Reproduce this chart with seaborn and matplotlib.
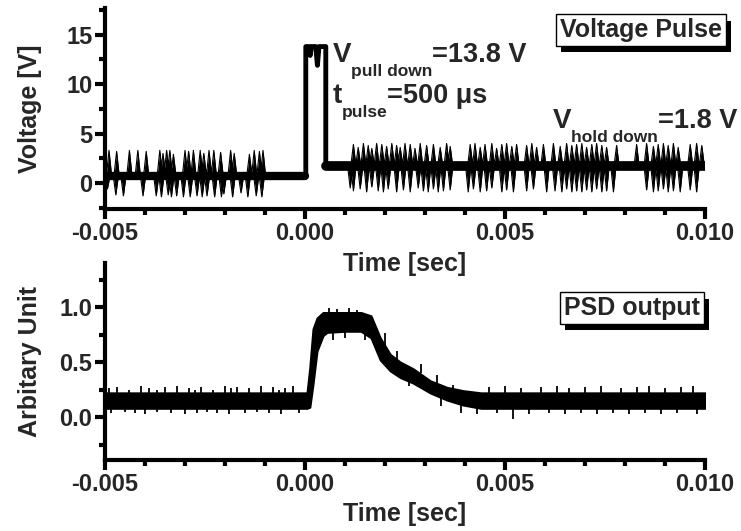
import matplotlib
matplotlib.use("Agg")
import matplotlib.pyplot as plt
import matplotlib.patheffects as pe
from matplotlib.ticker import MultipleLocator, FormatStrFormatter
import pandas as pd
import seaborn as sns

sns.set_theme(style="ticks")
plt.rcParams["font.family"] = ["Liberation Sans", "DejaVu Sans"]
plt.rcParams["font.weight"] = "bold"

# ---- Voltage pulse (times in ms, volts) ----
pre_base = 0.75
pre_up_t = [-4.90, -4.71, -4.39, -4.18, -3.97, -3.63, -3.55, -3.46, -3.38, -3.29,
            -3.00, -2.91, -2.79, -2.62, -2.53, -2.40, -2.28, -2.11, -1.86, -1.77,
            -1.39, -1.27, -1.14, -1.05]
pre_up_v = [3.3, 3.2, 3.3, 3.3, 3.2, 3.3, 3.0, 3.3, 3.3, 2.9,
            3.3, 3.2, 3.3, 3.3, 3.0, 3.3, 3.3, 3.1, 3.3, 3.0,
            2.9, 3.3, 3.2, 3.3]
pre_dn_t = [-4.94, -4.73, -4.54, -4.05, -3.72, -3.59, -3.42, -3.34, -3.21, -3.04,
            -2.87, -2.70, -2.57, -2.45, -2.26, -2.09, -2.03, -1.81, -1.60, -1.43,
            -1.22, -1.08]
pre_dn_v = [-0.6, -1.2, -1.3, -1.3, -1.3, -1.4, -1.2, -1.4, -1.3, -1.4,
            -1.4, -1.3, -1.4, -1.3, -1.4, -1.4, -1.1, -1.4, -1.0, -1.4,
            -1.3, -1.4]

pulse_t = [0.0, 0.02, 0.02, 0.10, 0.13, 0.16, 0.27, 0.31, 0.35, 0.52, 0.52]
pulse_v = [0.75, 0.75, 13.8, 13.8, 12.9, 13.8, 13.8, 11.9, 13.8, 13.8, 1.7]

post_base = 1.7
post_up_t = [1.21, 1.33, 1.46, 1.58, 1.67, 1.79, 1.92, 2.04, 2.17, 2.29,
             2.38, 2.50, 2.63, 2.75, 2.88, 3.04, 3.21, 3.38, 3.54, 3.63,
             4.13, 4.25, 4.38, 4.50, 4.67, 4.79, 4.92, 5.04, 5.17, 5.29,
             5.54, 5.67, 5.79, 5.96, 6.21, 6.38, 6.54, 6.67, 6.79, 6.92,
             7.04, 7.17, 7.29, 7.42, 7.54, 7.79, 8.29, 8.54, 8.71, 8.83,
             8.96, 9.08, 9.21, 9.33, 9.63, 9.79, 9.92]
post_up_v = [3.9, 3.6, 4.0, 3.8, 3.5, 4.0, 3.9, 3.7, 4.0, 3.8,
             3.6, 4.0, 3.9, 3.5, 4.0, 3.8, 3.9, 3.6, 4.0, 3.7,
             3.9, 4.0, 3.6, 3.9, 4.0, 3.5, 3.9, 4.0, 3.7, 3.9,
             3.8, 4.0, 3.6, 3.9, 4.0, 3.7, 4.0, 3.8, 3.9, 4.0,
             3.6, 3.9, 4.0, 3.8, 3.6, 3.8, 3.9, 4.0, 3.7, 3.9,
             4.0, 3.8, 4.0, 3.6, 3.9, 4.0, 3.8]
post_dn_t = [1.13, 1.21, 1.38, 1.54, 1.67, 1.83, 1.96, 2.08, 2.29, 2.46,
             2.63, 2.83, 2.96, 3.08, 3.21, 3.33, 3.46, 3.63, 4.08, 4.21,
             4.38, 4.54, 4.67, 4.92, 5.04, 5.21, 5.54, 5.71, 6.04, 6.25,
             6.42, 6.54, 6.67, 6.79, 6.92, 7.04, 7.17, 7.29, 7.42, 7.54,
             7.71, 8.54, 8.71, 8.83, 8.96, 9.08, 9.21, 9.38, 9.63, 9.79]
post_dn_v = [-0.5, -0.8, -0.6, -0.9, -0.4, -0.8, -0.9, -0.6, -0.9, -0.7,
             -0.9, -0.5, -0.8, -0.9, -0.6, -0.9, -0.8, -0.7, -0.9, -0.6,
             -0.9, -0.8, -0.5, -0.9, -0.7, -0.9, -0.8, -0.6, -0.9, -0.8,
             -0.9, -0.6, -0.9, -0.8, -0.9, -0.7, -0.9, -0.6, -0.9, -0.8,
             -0.9, -0.7, -0.9, -0.8, -0.6, -0.9, -0.8, -0.9, -0.7, -0.9]

# ---- PSD output (times in ms, arbitrary units) ----
psd_t = [-5.0, 0.05, 0.12, 0.20, 0.30, 0.45, 0.55, 1.00, 1.40, 1.65,
         1.88, 2.13, 2.38, 2.70, 3.13, 3.55, 3.95, 4.40, 10.0]
psd_hi = [0.22, 0.22, 0.45, 0.80, 0.90, 0.95, 0.95, 0.95, 0.95, 0.92,
          0.72, 0.57, 0.50, 0.44, 0.33, 0.27, 0.24, 0.22, 0.22]
psd_lo = [0.08, 0.08, 0.09, 0.30, 0.60, 0.74, 0.77, 0.78, 0.78, 0.72,
          0.52, 0.42, 0.36, 0.31, 0.22, 0.155, 0.11, 0.08, 0.08]
# short excursions sticking out of the noise band
psd_up_t = [-4.9, -4.7, -4.4, -4.1, -3.9, -3.7, -3.5, -3.2, -2.9, -2.75,
            -2.6, -2.3, -2.0, -1.85, -1.7, -1.4, -1.1, -0.8, -0.65, -0.5,
            -0.3, 0.6, 0.8, 1.1, 1.3, 2.0, 2.3, 2.9, 3.3, 3.7,
            4.6, 5.0, 5.4, 5.9, 6.3, 6.6, 7.0, 7.4, 7.9, 8.3,
            8.6, 9.0, 9.4, 9.7]
psd_up_from = [0.2, 0.2, 0.2, 0.2, 0.2, 0.2, 0.2, 0.2, 0.2, 0.2,
               0.2, 0.2, 0.2, 0.2, 0.2, 0.2, 0.2, 0.2, 0.2, 0.2,
               0.2, 0.93, 0.93, 0.93, 0.93, 0.6, 0.52, 0.4, 0.3, 0.24,
               0.2, 0.2, 0.2, 0.2, 0.2, 0.2, 0.2, 0.2, 0.2, 0.2,
               0.2, 0.2, 0.2, 0.2]
psd_up_v = [0.26, 0.27, 0.25, 0.28, 0.26, 0.25, 0.27, 0.28, 0.26, 0.25,
            0.27, 0.25, 0.28, 0.26, 0.27, 0.26, 0.28, 0.27, 0.25, 0.26,
            0.28, 0.99, 0.98, 0.99, 0.97, 0.76, 0.60, 0.48, 0.38, 0.29,
            0.27, 0.28, 0.26, 0.27, 0.28, 0.26, 0.27, 0.28, 0.26, 0.27,
            0.28, 0.26, 0.27, 0.28]
psd_dn_t = [-4.85, -4.5, -4.25, -4.0, -3.7, -3.35, -3.0, -2.7, -2.45, -2.2,
            -1.9, -1.5, -1.2, -0.9, -0.6, -0.15, 0.7, 1.0, 1.5, 2.6,
            3.4, 3.9, 4.3, 4.8, 5.2, 5.6, 6.1, 6.5, 6.9, 7.3,
            7.7, 8.1, 8.5, 8.9, 9.3, 9.8]
psd_dn_from = [0.1, 0.1, 0.1, 0.1, 0.1, 0.1, 0.1, 0.1, 0.1, 0.1,
               0.1, 0.1, 0.1, 0.1, 0.1, 0.1, 0.8, 0.8, 0.8, 0.35,
               0.18, 0.12, 0.1, 0.1, 0.1, 0.1, 0.1, 0.1, 0.1, 0.1,
               0.1, 0.1, 0.1, 0.1, 0.1, 0.1]
psd_dn_v = [0.04, 0.05, 0.04, 0.03, 0.05, 0.04, 0.03, 0.04, 0.05, 0.04,
            0.03, 0.04, 0.05, 0.04, 0.03, 0.04, 0.70, 0.72, 0.70, 0.28,
            0.10, 0.04, 0.03, 0.04, -0.02, 0.03, 0.04, 0.03, 0.04, 0.03,
            0.04, 0.03, 0.04, 0.03, 0.04, 0.03]


def spike_trace(base, t0, t1, up_t, up_v, dn_t, dn_v, half=0.065):
    events = sorted(list(zip(up_t, up_v)) + list(zip(dn_t, dn_v)))
    rows = [(t0, base)]
    for t, v in events:
        rows += [(t - half, base), (t, v), (t + half, base)]
    rows.append((t1, base))
    df = pd.DataFrame(rows, columns=["t", "v"])
    df["t"] = df["t"] * 1e-3
    return df


def style_axis(ax, ylim, ymajor, yminor, yfmt):
    ax.set_xlim(-0.005, 0.010)
    ax.set_ylim(*ylim)
    ax.xaxis.set_major_locator(MultipleLocator(0.005))
    ax.xaxis.set_minor_locator(MultipleLocator(0.001))
    ax.xaxis.set_major_formatter(FormatStrFormatter("%.3f"))
    ax.yaxis.set_major_locator(MultipleLocator(ymajor))
    ax.yaxis.set_minor_locator(MultipleLocator(yminor))
    ax.yaxis.set_major_formatter(FormatStrFormatter(yfmt))
    for side in ["top", "right"]:
        ax.spines[side].set_visible(False)
    for side in ["left", "bottom"]:
        ax.spines[side].set_linewidth(3)
        ax.spines[side].set_color("black")
    ax.tick_params(which="major", length=7, width=3, color="black",
                   labelsize=17, pad=2)
    ax.tick_params(which="minor", length=4, width=3, color="black")
    for lab in ax.get_xticklabels() + ax.get_yticklabels():
        lab.set_fontweight("bold")
    ax.set_xlabel("Time [sec]", fontsize=18, fontweight="bold")
    ax.xaxis.set_label_coords(0.5, -0.215)
    ax.patch.set_visible(False)
    ax.grid(False)


def boxed(fig, x, y, s):
    t = fig.text(x, y, s, ha="center", va="center", fontsize=18,
                 fontweight="bold",
                 bbox=dict(boxstyle="square,pad=0.15", fc="white", ec="black", lw=1))
    t.get_bbox_patch().set_path_effects(
        [pe.SimplePatchShadow(offset=(3.5, -4.5), shadow_rgbFace="black", alpha=1.0),
         pe.Normal()])


def sub_text(ax, x, y, main, sub, rest):
    t1 = ax.text(x, y, main, fontsize=20, fontweight="bold", va="baseline")
    t2 = ax.annotate(sub, xy=(1, 0), xycoords=t1, xytext=(-0.5, 3),
                     textcoords="offset points", fontsize=12.5,
                     fontweight="bold", va="top", ha="left")
    ax.annotate(rest, xy=(1, 0), xycoords=(t2, t1), va="bottom", ha="left",
                fontsize=19.5, fontweight="bold")


fig = plt.figure(figsize=(7.41, 5.31), dpi=100)
ax1 = fig.add_axes([0.1417, 0.6064, 0.8097, 0.3785])
ax2 = fig.add_axes([0.1417, 0.1337, 0.8097, 0.371])

# top panel: noise spikes drawn as solid wedges on a thick baseline
pre = spike_trace(pre_base, -5.0, 0.0, pre_up_t, pre_up_v, pre_dn_t, pre_dn_v)
post = spike_trace(post_base, 0.52, 10.0, post_up_t, post_up_v, post_dn_t, post_dn_v)
pulse = pd.DataFrame({"t": [t * 1e-3 for t in pulse_t], "v": pulse_v})

for trace, base in ((pre, pre_base), (post, post_base)):
    ax1.fill_between(trace["t"], trace["v"], base, color="black", lw=0)
    sns.lineplot(data=trace, x="t", y="v", ax=ax1, sort=False, estimator=None,
                 color="black", lw=0.8)
sns.lineplot(x=[-0.005, 0.0], y=[pre_base, pre_base], ax=ax1, color="black",
             lw=6, estimator=None)
sns.lineplot(x=[0.00052, 0.010], y=[post_base, post_base], ax=ax1,
             color="black", lw=7, estimator=None)
sns.lineplot(data=pulse, x="t", y="v", ax=ax1, sort=False, estimator=None,
             color="black", lw=3.5)
style_axis(ax1, (-2.63, 17.7), 5, 2.5, "%d")
ax1.set_ylabel("Voltage [V]", fontsize=18, fontweight="bold")
ax1.yaxis.set_label_coords(-0.105, 0.5)

sub_text(ax1, 0.0007, 12.26, "V", "pull down", "=13.8 V")
sub_text(ax1, 0.0007, 8.1, "t", "pulse", "=500 \u03bcs")
sub_text(ax1, 0.0062, 5.57, "V", "hold down", "=1.8 V")

# bottom panel
tt = [t * 1e-3 for t in psd_t]
ax2.fill_between(tt, psd_lo, psd_hi, color="black", lw=1.5, edgecolor="black")
ax2.vlines([t * 1e-3 for t in psd_up_t], psd_up_from, psd_up_v, color="black", lw=1.3)
ax2.vlines([t * 1e-3 for t in psd_dn_t], psd_dn_from, psd_dn_v, color="black", lw=1.3)
style_axis(ax2, (-0.39, 1.40), 0.5, 0.25, "%.1f")
ax2.set_ylabel("Arbitary Unit", fontsize=18, fontweight="bold")
ax2.yaxis.set_label_coords(-0.105, 0.5)

boxed(fig, 641 / 741, 1 - 30 / 531, "Voltage Pulse")
boxed(fig, 632 / 741, 1 - 308 / 531, "PSD output")

fig.savefig("out.png", dpi=100)
